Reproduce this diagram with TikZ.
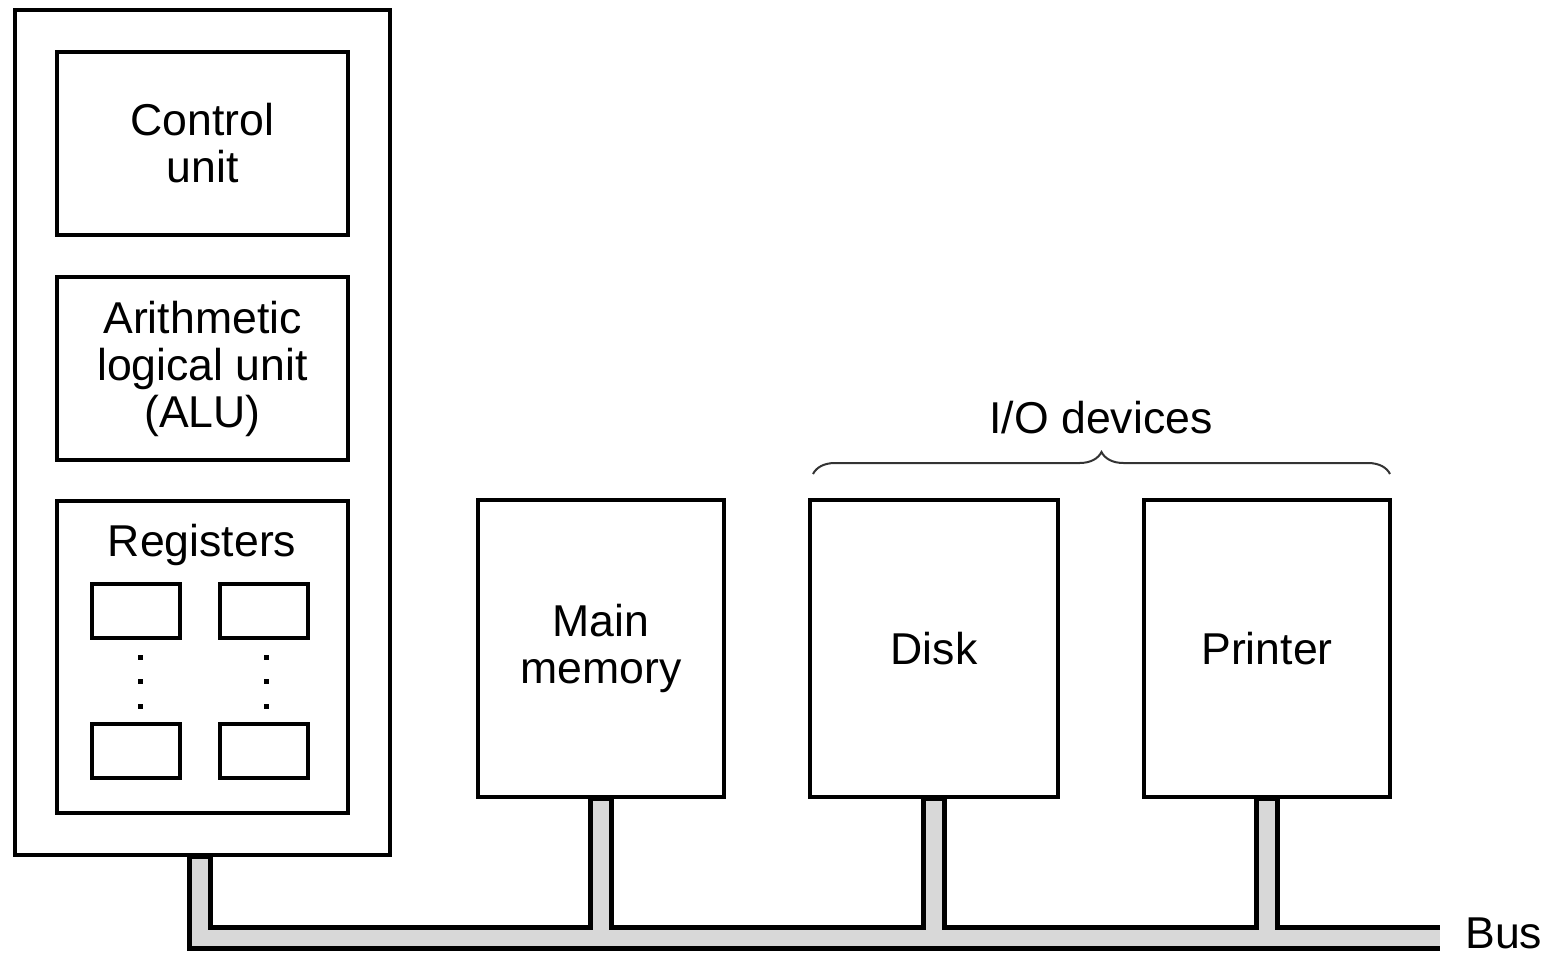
\documentclass[tikz,border=0pt]{standalone}
\usepackage{fontspec}
\setmainfont{Liberation Sans}
\usetikzlibrary{decorations.pathreplacing,calc}
\definecolor{busgray}{HTML}{D8D8D8}
\begin{document}
\begin{tikzpicture}[x=0.5pt,y=-0.5pt,
  box/.style={draw,line width=2pt,fill=white,inner sep=0pt,align=center,
    font=\fontsize{22.3}{23.5}\selectfont},
  reg/.style={draw,line width=2pt,fill=white,inner sep=0pt,minimum width=44pt,minimum height=27pt},
  busout/.style={draw=black,line width=13pt,line join=miter,line cap=butt},
  busin/.style={draw=busgray,line width=8pt,line join=miter,line cap=butt},
  lbl/.style={inner sep=0pt,font=\fontsize{22.3}{23.5}\selectfont},
  dot/.style={fill=black,inner sep=0pt,minimum size=2.5pt,rectangle}]
\useasboundingbox (0,0) rectangle (1549,955);
% boxes
\node[box,minimum width=187.5pt,minimum height=422.5pt] (cpu) at (202.5,432.5) {};
\node[box,minimum width=145.5pt,minimum height=91.5pt] (cu) at (202.5,143.5) {Control\\unit};
\node[box,minimum width=145.5pt,minimum height=91.5pt] (alu) at (202.5,368.5) {Arithmetic\\logical unit\\(ALU)};
\node[box,minimum width=145.5pt,minimum height=156pt] (regs) at (202.5,657) {};
\node[lbl] (regl) at (202,545) {Registers};
\node[reg] (r1) at (136,611) {};
\node[reg] (r2) at (263.5,611) {};
\node[reg] (r3) at (136,751) {};
\node[reg] (r4) at (263.5,751) {};
\node[dot] (d1) at (140,657) {};
\node[dot] (d2) at (140,681) {};
\node[dot] (d3) at (140,706) {};
\node[dot] (d4) at (266,657) {};
\node[dot] (d5) at (266,681) {};
\node[dot] (d6) at (266,706) {};
\node[box,minimum width=123pt,minimum height=148.5pt] (mem) at (601,648.5) {Main\\memory};
\node[box,minimum width=124pt,minimum height=148.5pt] (disk) at (934,648.5) {Disk};
\node[box,minimum width=123pt,minimum height=148.5pt] (prn) at (1267,648.5) {Printer};
% bus
\coordinate (busL) at (200,938);
\coordinate (busR) at (1440,938);
\draw[busout] (cpu.south -| busL) -- (busL) -- (busR);
\draw[busout] (mem.south) -- (mem.south |- busL);
\draw[busout] (disk.south) -- (disk.south |- busL);
\draw[busout] (prn.south) -- (prn.south |- busL);
\draw[busin] ($(cpu.south -| busL)+(0,2)$) -- (busL) -- (busR);
\draw[busin] ($(mem.south)+(0,2)$) -- (mem.south |- busL);
\draw[busin] ($(disk.south)+(0,2)$) -- (disk.south |- busL);
\draw[busin] ($(prn.south)+(0,2)$) -- (prn.south |- busL);
% brace
\coordinate (bl) at (813,474);
\coordinate (br) at (1390,474);
\draw[line width=1pt,black!80,decorate,decoration={brace,amplitude=11pt}] (bl) -- (br);
\node[lbl] (io) at (1101,418) {I/O devices};
\node[lbl,anchor=west] (bus) at (1465,933) {Bus};
\end{tikzpicture}
\end{document}
